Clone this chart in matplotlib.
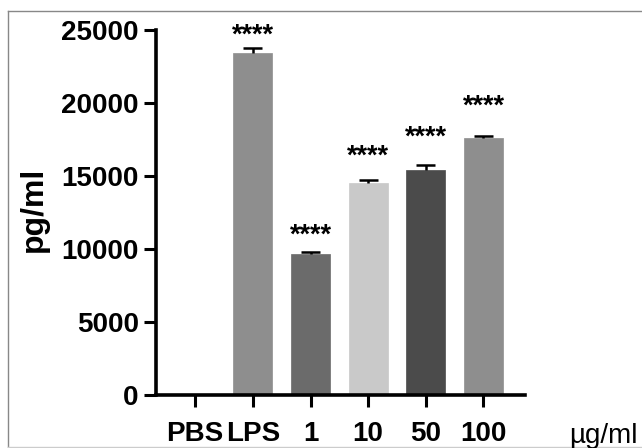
import matplotlib
matplotlib.use("Agg")
import matplotlib.pyplot as plt
from matplotlib.lines import Line2D

categories = ["PBS", "LPS", "1", "10", "50", "100"]
values = [0, 23400, 9660, 14540, 15410, 17620]
errors = [0, 340, 115, 185, 340, 140]
bar_colors = ["#8e8e8e", "#8e8e8e", "#6b6b6b", "#c9c9c9", "#4b4b4b", "#8e8e8e"]
sig_labels = ["", "****", "****", "****", "****", "****"]
sig_y = [0, 24600, 10900, 16350, 17600, 19750]
yticks = [0, 5000, 10000, 15000, 20000, 25000]
unit_label = "µg/ml"
ylabel = "pg/ml"

plt.rcParams['font.family'] = ['Liberation Sans', 'DejaVu Sans']

fig = plt.figure(figsize=(6.42, 4.48), dpi=100)
ax = fig.add_axes([156/642, 53/448, (525-156)/642, (395-30)/448])

x = list(range(len(categories)))
ax.bar(x, values, width=0.68, color=bar_colors, edgecolor=bar_colors, linewidth=0.5, zorder=2)
tops = [v + e for v, e in zip(values, errors)]
for xi, v, t, e in zip(x, values, tops, errors):
    if e > 0:
        ax.vlines(xi, v, t, color='black', lw=1.8, zorder=3)
        ax.hlines(t, xi - 0.165, xi + 0.165, color='black', lw=1.8, zorder=3)
for xi, lab, yy in zip(x, sig_labels, sig_y):
    if lab:
        ax.text(xi, yy, lab, ha='center', va='center', fontsize=19.5, fontweight='bold',
                clip_on=False)

ax.set_xlim(-0.68, 5.72)
ax.set_ylim(0, 25000)
ax.set_yticks(yticks)
ax.set_yticklabels([str(t) for t in yticks])
ax.set_xticks(x)
ax.set_xticklabels(categories)
for sp in ['top', 'right']:
    ax.spines[sp].set_visible(False)
for sp in ['left', 'bottom']:
    ax.spines[sp].set_linewidth(2.6)
ax.tick_params(axis='both', direction='out', length=8.5, width=2.2, labelsize=20)
ax.tick_params(axis='y', pad=4)
ax.tick_params(axis='x', pad=10)
for lab in ax.get_xticklabels() + ax.get_yticklabels():
    lab.set_fontweight('bold')

fig.text(34/642, 1 - 209/448, ylabel, rotation=90, ha='center', va='center',
         fontsize=23, fontweight='bold')
fig.text(569/642, 5/448, unit_label, ha='left', va='baseline', fontsize=20)

# outer gray frame
fig.add_artist(Line2D([8/642, 8/642], [1/448, 1 - 11/448], transform=fig.transFigure, color='#888888', lw=1))
fig.add_artist(Line2D([8/642, 1], [1 - 11/448, 1 - 11/448], transform=fig.transFigure, color='#888888', lw=1))
fig.add_artist(Line2D([8/642, 1], [1/448, 1/448], transform=fig.transFigure, color='#cccccc', lw=1))

fig.savefig("out.png", dpi=100)
